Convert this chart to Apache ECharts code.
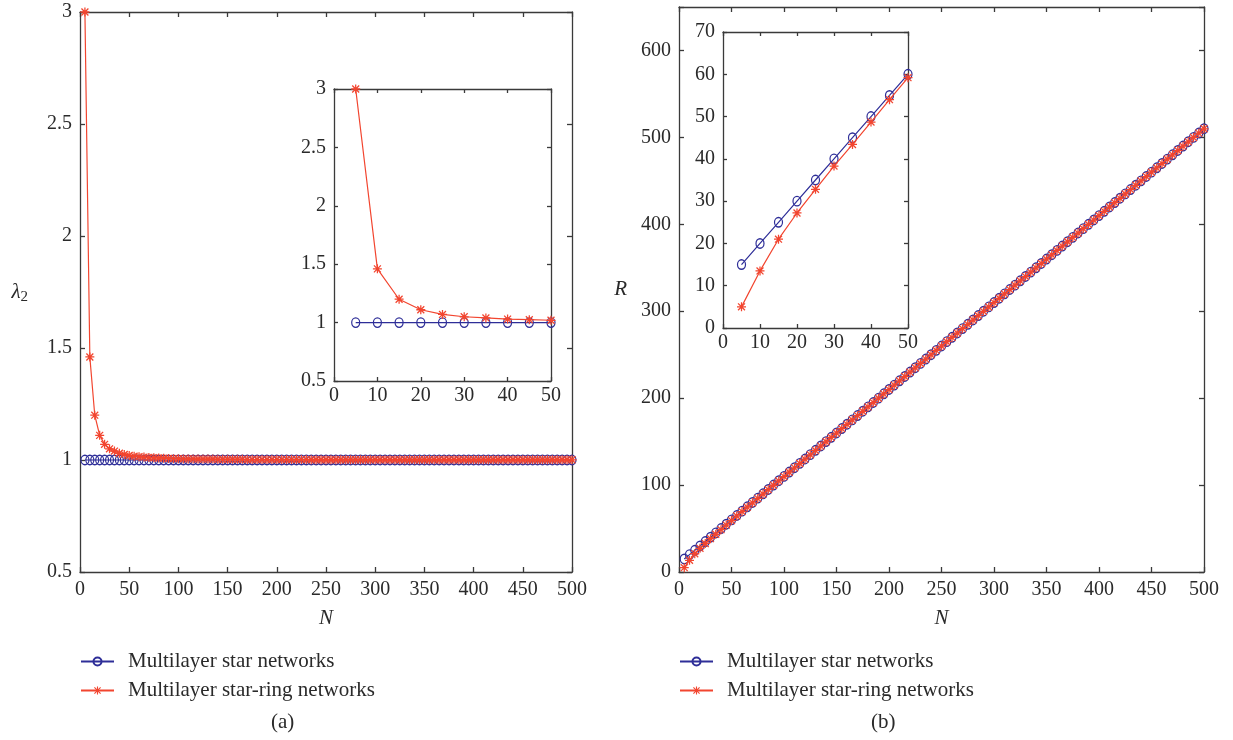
<!DOCTYPE html>
<html>
<head>
<meta charset="utf-8">
<script src="https://cdn.jsdelivr.net/npm/echarts@6/dist/echarts.min.js"></script>
<style>
html,body{margin:0;padding:0;background:#fff;}
#chart{width:1233px;height:740px;}
</style>
</head>
<body>
<div id="chart"></div>
<script>
// ---------------- data ----------------
const N = [5,10,15,20,25,30,35,40,45,50,55,60,65,70,75,80,85,90,95,100,
  105,110,115,120,125,130,135,140,145,150,155,160,165,170,175,180,185,190,195,200,
  205,210,215,220,225,230,235,240,245,250,255,260,265,270,275,280,285,290,295,300,
  305,310,315,320,325,330,335,340,345,350,355,360,365,370,375,380,385,390,395,400,
  405,410,415,420,425,430,435,440,445,450,455,460,465,470,475,480,485,490,495,500];

// (a) lambda_2
const lambdaStar = [1,1,1,1,1,1,1,1,1,1,1,1,1,1,1,1,1,1,1,1,
  1,1,1,1,1,1,1,1,1,1,1,1,1,1,1,1,1,1,1,1,
  1,1,1,1,1,1,1,1,1,1,1,1,1,1,1,1,1,1,1,1,
  1,1,1,1,1,1,1,1,1,1,1,1,1,1,1,1,1,1,1,1,
  1,1,1,1,1,1,1,1,1,1,1,1,1,1,1,1,1,1,1,1];
const lambdaStarRing = [3.00,1.46,1.20,1.11,1.07,1.05,1.04,1.03,1.025,1.02,
  1.017,1.015,1.013,1.011,1.010,1.009,1.008,1.007,1.006,1.006,
  1.005,1.005,1.005,1.004,1.004,1.004,1.004,1.003,1.003,1.003,
  1.003,1.003,1.003,1.002,1.002,1.002,1.002,1.002,1.002,1.002,
  1.002,1.002,1.002,1.002,1.002,1.002,1.001,1.001,1.001,1.001,
  1.001,1.001,1.001,1.001,1.001,1.001,1.001,1.001,1.001,1.001,
  1.001,1.001,1.001,1.001,1.001,1.001,1.001,1.001,1.001,1.001,
  1.001,1.001,1.001,1.001,1.001,1.001,1.001,1.001,1.001,1.001,
  1.001,1.001,1.001,1.001,1.001,1.001,1.001,1.001,1.001,1.001,
  1.001,1.001,1.001,1.001,1.001,1.001,1.001,1.001,1.001,1.001];

// (b) R
const rStar = [15,20,25,30,35,40,45,50,55,60,65,70,75,80,85,90,95,100,105,110,
  115,120,125,130,135,140,145,150,155,160,165,170,175,180,185,190,195,200,205,210,
  215,220,225,230,235,240,245,250,255,260,265,270,275,280,285,290,295,300,305,310,
  315,320,325,330,335,340,345,350,355,360,365,370,375,380,385,390,395,400,405,410,
  415,420,425,430,435,440,445,450,455,460,465,470,475,480,485,490,495,500,505,510];
const rStarRing = [5.0,13.5,21.0,27.2,32.8,38.3,43.4,48.7,54.0,59.2,
  64.4,69.5,74.6,79.6,84.7,89.7,94.7,99.8,104.8,109.8,
  114.8,119.8,124.8,129.8,134.8,139.8,144.8,149.8,154.8,159.8,
  164.9,169.9,174.9,179.9,184.9,189.9,194.9,199.9,204.9,209.9,
  214.9,219.9,224.9,229.9,234.9,239.9,244.9,249.9,254.9,259.9,
  264.9,269.9,274.9,279.9,284.9,289.9,294.9,299.9,304.9,309.9,
  314.9,319.9,324.9,329.9,334.9,339.9,344.9,349.9,354.9,359.9,
  364.9,369.9,374.9,379.9,384.9,389.9,394.9,399.9,404.9,409.9,
  414.9,419.9,424.9,429.9,434.9,439.9,444.9,449.9,454.9,459.9,
  464.9,469.9,474.9,479.9,484.9,489.9,494.9,499.9,504.9,509.9];

const insetCount = 10; // inset shows N = 5..50
const seriesNames = ['Multilayer star networks', 'Multilayer star-ring networks'];
const captions = ['(a)', '(b)'];

// ---------------- style ----------------
const FONT = 'Liberation Serif';
const TXT = '#2a2a2a';
const AX = '#3a3a3a';
const BLUE = '#2e2e98';
const RED = '#f2452f';
const STAR = 'path://M8.6,0H11.4V20H8.6Z M0,8.6H20V11.4H0Z M1.3,3.3L3.3,1.3L18.7,16.7L16.7,18.7Z M16.7,1.3L18.7,3.3L3.3,18.7L1.3,16.7Z';

function pairs(xs, ys, n) {
  const out = [];
  const len = n || xs.length;
  for (let i = 0; i < len; i++) out.push([xs[i], ys[i]]);
  return out;
}

const grids = [
  {left: 80, top: 12, width: 492, height: 560},
  {left: 334, top: 89, width: 217, height: 292},
  {left: 679, top: 7, width: 525, height: 565},
  {left: 723, top: 32, width: 185, height: 296}
];

const xAxes = [], yAxes = [];
function addAxes(gi, xr, yr, tickLen, names) {
  const common = {
    axisLine: {show: true, onZero: false, lineStyle: {color: AX, width: 1.3}},
    axisTick: {show: true, inside: true, length: tickLen, lineStyle: {color: AX, width: 1.3}},
    splitLine: {show: false},
    axisLabel: {fontFamily: FONT, fontSize: 20, color: TXT}
  };
  xAxes.push(Object.assign({}, common, {
    type: 'value', gridIndex: gi, position: 'bottom', min: xr[0], max: xr[1], interval: xr[2],
    axisLabel: Object.assign({}, common.axisLabel, {margin: gi % 2 ? 5 : 8}),
    name: names ? names.x : '', nameLocation: 'middle', nameGap: 36,
    nameTextStyle: {fontFamily: FONT, fontSize: 21, fontStyle: 'italic', color: TXT}
  }));
  xAxes.push(Object.assign({}, common, {
    type: 'value', gridIndex: gi, position: 'top', min: xr[0], max: xr[1], interval: xr[2],
    axisLabel: {show: false}
  }));
  yAxes.push(Object.assign({}, common, {
    type: 'value', gridIndex: gi, position: 'left', min: yr[0], max: yr[1], interval: yr[2],
    axisLabel: Object.assign({}, common.axisLabel, {margin: 8,
      formatter: function (v) { return (Math.abs(v / yr[2] - Math.round(v / yr[2])) < 1e-6) ? String(v) : ''; }}),
    name: names ? names.y : '', nameLocation: 'middle', nameRotate: 0, nameGap: names ? names.gap : 0,
    nameTextStyle: names ? names.style : {}
  }));
  yAxes.push(Object.assign({}, common, {
    type: 'value', gridIndex: gi, position: 'right', min: yr[0], max: yr[1], interval: yr[2],
    axisLabel: {show: false}
  }));
}

addAxes(0, [0, 500, 50], [0.5, 3, 0.5], 5, {
  x: 'N', y: '{l|λ}{s|2}', gap: 52,
  style: {fontFamily: FONT, color: TXT, rich: {
    l: {fontFamily: FONT, fontSize: 21, fontStyle: 'italic', color: TXT},
    s: {fontFamily: FONT, fontSize: 15, color: TXT, padding: [10, 0, 0, 0]}
  }}
});
addAxes(1, [0, 50, 10], [0.5, 3, 0.5], 4, null);
addAxes(2, [0, 500, 50], [0, 650, 100], 5, {
  x: 'N', y: 'R', gap: 52,
  style: {fontFamily: FONT, fontSize: 21, fontStyle: 'italic', color: TXT}
});
addAxes(3, [0, 50, 10], [0, 70, 10], 4, null);

function lineSeries(name, data, axisIdx, isStar) {
  const color = isStar ? RED : BLUE;
  return {
    type: 'line', name: name, data: data,
    xAxisIndex: axisIdx * 2, yAxisIndex: axisIdx * 2,
    symbol: isStar ? STAR : 'circle',
    symbolSize: isStar ? 9 : [8, 9.5],
    showSymbol: true, showAllSymbol: true,
    lineStyle: {color: color, width: 1.2},
    itemStyle: isStar ? {color: color} : {color: 'rgba(0,0,0,0)', borderColor: color, borderWidth: 1.3},
    emphasis: {disabled: true},
    z: isStar ? 3 : 2,
    animation: false
  };
}

const series = [
  lineSeries(seriesNames[0], pairs(N, lambdaStar), 0, false),
  lineSeries(seriesNames[1], pairs(N, lambdaStarRing), 0, true),
  lineSeries(seriesNames[0], pairs(N, lambdaStar, insetCount), 1, false),
  lineSeries(seriesNames[1], pairs(N, lambdaStarRing, insetCount), 1, true),
  lineSeries(seriesNames[0], pairs(N, rStar), 2, false),
  lineSeries(seriesNames[1], pairs(N, rStarRing), 2, true),
  lineSeries(seriesNames[0], pairs(N, rStar, insetCount), 3, false),
  lineSeries(seriesNames[1], pairs(N, rStarRing, insetCount), 3, true)
];

function legendAt(left) {
  return {
    data: seriesNames, orient: 'vertical', left: left, top: 651, padding: 0,
    itemWidth: 33, itemHeight: 10, itemGap: 8,
    selectedMode: false,
    textStyle: {fontFamily: FONT, fontSize: 21, color: TXT, padding: [0, 0, 0, 9]}
  };
}

const chart = echarts.init(document.getElementById('chart'), null, {renderer: 'canvas'});
chart.setOption({
  animation: false,
  backgroundColor: '#fff',
  grid: grids.map(g => Object.assign({containLabel: false, show: true, backgroundColor: '#fff', borderWidth: 0}, g)),
  xAxis: xAxes,
  yAxis: yAxes,
  legend: [legendAt(80), legendAt(679)],
  series: series,
  graphic: [
    {type: 'text', left: 271, top: 712, style: {text: captions[0], font: '21px "' + FONT + '"', fill: TXT}},
    {type: 'text', left: 871, top: 712, style: {text: captions[1], font: '21px "' + FONT + '"', fill: TXT}}
  ]
});
</script>
</body>
</html>
